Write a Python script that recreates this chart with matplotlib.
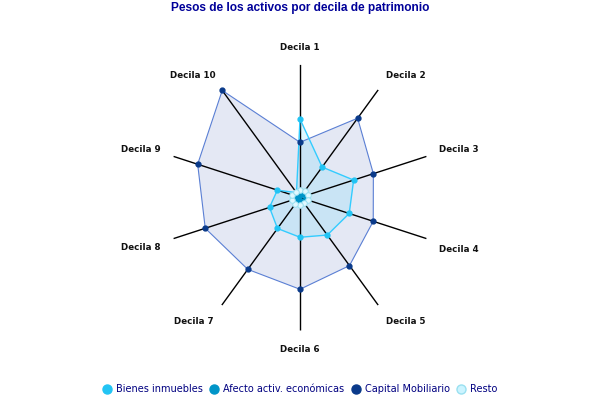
import numpy as np
import matplotlib
matplotlib.use("Agg")
import matplotlib.pyplot as plt
from matplotlib.lines import Line2D

categories = ["Decila 1", "Decila 2", "Decila 3", "Decila 4", "Decila 5",
              "Decila 6", "Decila 7", "Decila 8", "Decila 9", "Decila 10"]
bienes_inmuebles = [59.0, 28.3, 42.4, 38.9, 34.9, 29.9, 28.8, 24.1, 17.9, 4.5]
afecto_activ = [2.0, 3.0, 4.5, 4.5, 3.5, 3.0, 2.5, 2.5, 2.0, 1.5]
capital_mobiliario = [41.5, 73.7, 58.0, 57.9, 63.3, 69.0, 66.8, 74.9, 80.9, 99.5]
resto = [6.0, 6.5, 6.5, 6.0, 5.5, 5.5, 6.0, 6.5, 6.0, 5.5]
series_names = ["Bienes inmuebles", "Afecto activ. económicas", "Capital Mobiliario", "Resto"]
rmax = 100

W, H = 600, 400
fig = plt.figure(figsize=(6, 4), dpi=100)
cx, cy, R = 300, 197.5, 133
ax = fig.add_axes([(cx - R) / W, (H - cy - R) / H, 2 * R / W, 2 * R / H], projection="polar")
ax.set_theta_zero_location("N")
ax.set_theta_direction(-1)
ax.set_ylim(0, rmax)
ax.set_xticks([])
ax.set_yticks([])
ax.grid(False)
ax.spines["polar"].set_visible(False)
ax.patch.set_alpha(0)

n = len(categories)
theta = np.arange(n) * 2 * np.pi / n
tc = np.append(theta, theta[0])

def closed(v):
    return np.append(np.asarray(v, float), v[0])

# fills
ax.fill(tc, closed(capital_mobiliario), color="#e4e8f4", zorder=1, lw=0)
ax.fill(tc, closed(bienes_inmuebles), color="#30d0ff", alpha=0.15, zorder=1.1, lw=0)
ax.fill(tc, closed(afecto_activ), color="#0099cc", alpha=0.3, zorder=1.2, lw=0)
ax.fill(tc, closed(resto), color="#ccf4ff", alpha=0.4, zorder=1.3, lw=0)

# radial axes
for t in theta:
    ax.plot([t, t], [0, rmax], color="black", lw=1, zorder=2)

# series lines + markers
ax.plot(tc, closed(capital_mobiliario), color="#5a7fd4", lw=0.8, zorder=3, clip_on=False)
ax.plot(tc, closed(bienes_inmuebles), color="#33ccff", lw=1, zorder=3)
ax.plot(tc, closed(afecto_activ), color="#0099cc", lw=0.8, zorder=3)
ax.plot(tc, closed(resto), color="#99e0f0", lw=0.8, zorder=3)

ax.plot(theta, capital_mobiliario, "o", color="#0a3a8a", ms=3.5, zorder=4, clip_on=False)
ax.plot(theta, bienes_inmuebles, "o", color="#22c4f4", ms=3.5, zorder=4)
ax.plot(theta, afecto_activ, "o", color="#0095c8", ms=3.5, zorder=4)
ax.plot(theta, resto, "o", mfc="#e0f8ff", mec="#99e0f0", mew=0.7, ms=4, zorder=4)

# category labels (pixel layout positions)
label_px = [(300, 47), (406, 75.5), (459, 149), (459, 249), (406, 322),
            (300, 350), (194, 322), (141, 248), (141, 149), (193, 75.5)]
for (x, y), lab in zip(label_px, categories):
    fig.text(x / W, 1 - y / H, lab, ha="center", va="center", fontsize=6.3,
             fontweight="bold", color="#111111", family="DejaVu Sans")

fig.text(0.5, 1 - 8.5 / H, "Pesos de los activos por decila de patrimonio",
         ha="center", va="center", fontsize=8.6, fontweight="bold", color="#000099",
         family="Liberation Sans")

handles = [
    Line2D([], [], ls="none", marker="o", color="#22c4f4", ms=6.5),
    Line2D([], [], ls="none", marker="o", color="#0095c8", ms=6.5),
    Line2D([], [], ls="none", marker="o", color="#0a3a8a", ms=6.5),
    Line2D([], [], ls="none", marker="o", mfc="#ccf4ff", mec="#99e0f0", ms=6.5),
]
leg = fig.legend(handles, series_names, loc="center", bbox_to_anchor=(0.5, 1 - 389 / H),
                 ncol=4, frameon=False, fontsize=7, handletextpad=0.5, columnspacing=0.7,
                 handlelength=0.9)
for t in leg.get_texts():
    t.set_color("#000080")

fig.savefig("out.png", dpi=100)
